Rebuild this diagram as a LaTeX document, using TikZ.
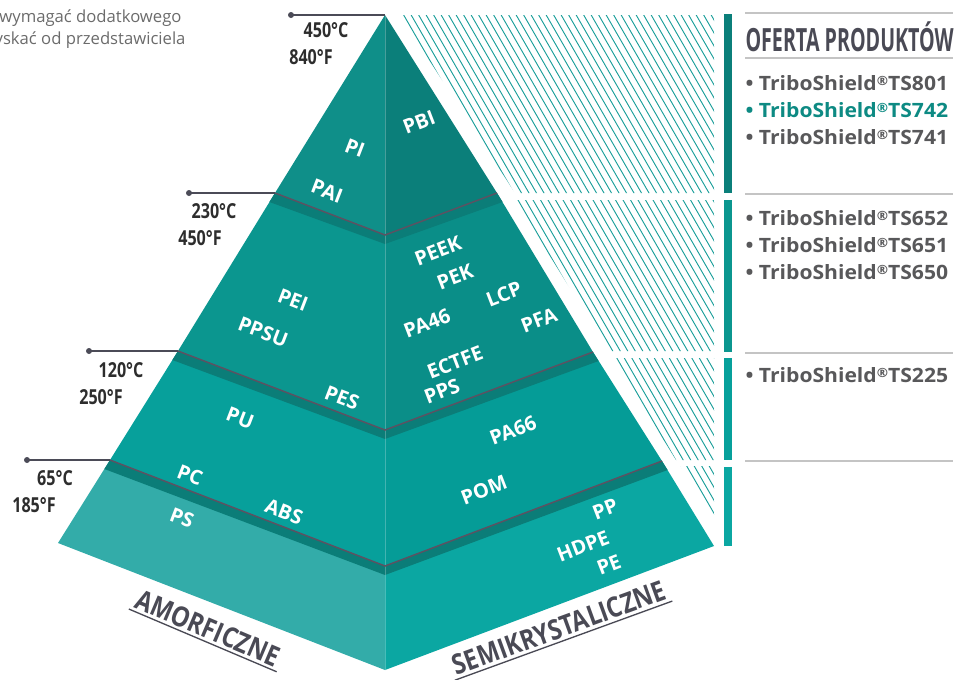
\documentclass[tikz,border=0pt]{standalone}
\usepackage{fontspec}
\setmainfont{Open Sans}
\usepackage{graphicx}

\definecolor{tOneL}{HTML}{0F8F89}
\definecolor{tOneR}{HTML}{0B7F7A}
\definecolor{tTwoL}{HTML}{0B968F}
\definecolor{tTwoR}{HTML}{0A8E88}
\definecolor{tThreeL}{HTML}{07A09B}
\definecolor{tThreeR}{HTML}{059C97}
\definecolor{tFourL}{HTML}{33ACA9}
\definecolor{tFourR}{HTML}{0BA7A2}
\definecolor{bandcol}{HTML}{0B7D78}
\definecolor{edgecol}{HTML}{5C5262}
\definecolor{leadcol}{HTML}{4B4B57}
\definecolor{hatchcol}{HTML}{1A9E9A}
\definecolor{inkcol}{HTML}{2D2D2D}
\definecolor{listcol}{HTML}{58585A}
\definecolor{hicol}{HTML}{0D8A83}
\definecolor{titlecol}{HTML}{4A4A55}
\definecolor{rulecol}{HTML}{C4C4C4}
\definecolor{noteol}{HTML}{6B6B6B}

\newcommand{\regmark}{\raisebox{0.5ex}{\fontsize{9.5}{9.5}\selectfont ®}}
\newcommand{\narrowtxt}[2]{\scalebox{#1}[1]{#2}}

\tikzset{every picture/.style={line width=0.75pt}}
\tikzset{
  plastic/.style={font=\bfseries\fontsize{15}{15}\selectfont, text=white, inner sep=0pt},
  leftface/.style={plastic, rotate=-21},
  rightface/.style={plastic, rotate=21},
  templabel/.style={font=\bfseries\fontsize{15.5}{15.5}\selectfont, text=inkcol, inner sep=0pt},
  offer/.style={font=\bfseries\fontsize{14.8}{14.8}\selectfont, text=listcol, anchor=west, inner sep=0pt},
  tierline/.style={draw=edgecol, line width=1.1pt},
  leader/.style={draw=leadcol, line width=1pt},
  hatchline/.style={draw=hatchcol, line width=0.7pt},
  graphrule/.style={draw=rulecol, line width=1pt},
  grouplabel/.style={font=\bfseries\fontsize{21}{21}\selectfont, text=titlecol, inner sep=0pt},
  groupline/.style={draw=titlecol, line width=1pt}
}

\begin{document}
\begin{tikzpicture}[x=0.75pt,y=0.75pt,yscale=-1,xscale=1]
	\useasboundingbox (0,0) rectangle (955,679);

	% corners of the tiers
	\coordinate (apex) at (385,15);
	\coordinate (l1) at (275,193); \coordinate (c1) at (385,235); \coordinate (r1) at (497,193);
	\coordinate (l2) at (178,351); \coordinate (c2) at (385,430); \coordinate (r2) at (593,352);
	\coordinate (l3) at (110,460); \coordinate (c3) at (385,566); \coordinate (r3) at (662,461);
	\coordinate (l4) at (58,543);  \coordinate (c4) at (385,670); \coordinate (r4) at (714,546);

	%Shape: tier faces
	\fill[tOneL] (apex) -- (l1) -- (c1) -- cycle;
	\fill[tOneR] (apex) -- (c1) -- (r1) -- cycle;
	\fill[tTwoL] (l1) -- (l2) -- (c2) -- (c1) -- cycle;
	\fill[tTwoR] (c1) -- (c2) -- (r2) -- (r1) -- cycle;
	\fill[tThreeL] (l2) -- (l3) -- (c3) -- (c2) -- cycle;
	\fill[tThreeR] (c2) -- (c3) -- (r3) -- (r2) -- cycle;
	\fill[tFourL] (l3) -- (l4) -- (c4) -- (c3) -- cycle;
	\fill[tFourR] (c3) -- (c4) -- (r4) -- (r3) -- cycle;

	%Shape: slab thickness
	\fill[bandcol] (l1) -- (c1) -- (r1) -- (502.6,202) -- (385,244) -- (269.4,202) -- cycle;
	\fill[bandcol] (l2) -- (c2) -- (r2) -- (598.6,361) -- (385,439) -- (172.4,360) -- cycle;
	\fill[bandcol] (l3) -- (c3) -- (r3) -- (667.6,470) -- (385,575) -- (104.4,469) -- cycle;

	% front edge
	\draw[white, opacity=0.25, line width=0.6pt] (apex) -- (c4);

	%Straight Lines: tier borders
	\draw[tierline] (l1) -- (c1) -- (r1);
	\draw[tierline] (l2) -- (c2) -- (r2);
	\draw[tierline] (l3) -- (c3) -- (r3);

	%Straight Lines: temperature leaders
	\coordinate (d1) at (291,15);
	\coordinate (d2) at (189,193);
	\coordinate (d3) at (89,351);
	\coordinate (d4) at (27,460);
	\draw[leader] (d1) -- (apex);
	\draw[leader] (d2) -- (l1);
	\draw[leader] (d3) -- (l2);
	\draw[leader] (d4) -- (l3);
	\foreach \d in {d1,d2,d3,d4} \fill[leadcol] (\d) circle (3);

	% hatching
	\begin{scope}
		\clip (400,15) -- (714,15) -- (714,193) -- (515,193) -- cycle;
		\foreach \s in {80,87.5,...,720} \draw[hatchline] (\s,0) -- ++(320,554);
	\end{scope}
	\begin{scope}
		\clip (515,200) -- (714,200) -- (714,351) -- (609,351) -- cycle;
		\foreach \s in {80,87.5,...,720} \draw[hatchline] (\s,0) -- ++(320,554);
	\end{scope}
	\begin{scope}
		\clip (613,358) -- (714,358) -- (714,460) -- (676,460) -- cycle;
		\foreach \s in {80,87.5,...,720} \draw[hatchline] (\s,0) -- ++(320,554);
	\end{scope}
	\begin{scope}
		\clip (680,466) -- (714,466) -- (714,521) -- cycle;
		\foreach \s in {80,87.5,...,720} \draw[hatchline] (\s,0) -- ++(320,554);
	\end{scope}

	%Shape: side bars
	\fill[tOneR] (724,14) rectangle (732,193);
	\fill[tTwoL] (724,200) rectangle (732,352);
	\fill[tThreeL] (724,358) rectangle (732,460);
	\fill[tFourR] (724,467) rectangle (732,546);

	% rules of the list
	\draw[graphrule] (745,13) -- (953,13);
	\draw[graphrule, line width=1.6pt] (745,58) -- (953,58);
	\draw[graphrule] (745,194) -- (953,194);
	\draw[graphrule] (745,353) -- (953,353);
	\draw[graphrule] (745,461) -- (953,461);

	% Text Node: note
	\node[font=\fontsize{12.5}{12.5}\selectfont, text=noteol, anchor=east, inner sep=0pt] (note1) at (182,18) {wymagać dodatkowego};
	\node[font=\fontsize{12.5}{12.5}\selectfont, text=noteol, anchor=east, inner sep=0pt] (note2) at (186,40) {yskać od przedstawiciela};

	% Text Node: temperatures
	\node[templabel] (t450c) at (326,30) {\narrowtxt{0.78}{450°C}};
	\node[templabel] (t840f) at (311,57) {\narrowtxt{0.78}{840°F}};
	\node[templabel] (t230c) at (214,211) {\narrowtxt{0.78}{230°C}};
	\node[templabel] (t450f) at (200,238) {\narrowtxt{0.78}{450°F}};
	\node[templabel] (t120c) at (121,370) {\narrowtxt{0.78}{120°C}};
	\node[templabel] (t250f) at (101,397) {\narrowtxt{0.78}{250°F}};
	\node[templabel] (t65c) at (55,478) {\narrowtxt{0.78}{65°C}};
	\node[templabel] (t185f) at (34,505) {\narrowtxt{0.78}{185°F}};

	% Text Node: plastics, left face
	\node[leftface] (pi) at (355,148) {PI};
	\node[leftface] (pai) at (327,191) {PAI};
	\node[leftface] (pei) at (293,300) {PEI};
	\node[leftface] (ppsu) at (263,332) {PPSU};
	\node[leftface] (pes) at (342,398) {PES};
	\node[leftface] (pu) at (240,418) {PU};
	\node[leftface] (pc) at (190,475) {PC};
	\node[leftface] (abs) at (284,512) {ABS};
	\node[leftface] (ps) at (182,518) {PS};

	% Text Node: plastics, right face
	\node[rightface] (pbi) at (419,122) {PBI};
	\node[rightface] (peek) at (438,251) {PEEK};
	\node[rightface] (pek) at (455,277) {PEK};
	\node[rightface] (lcp) at (504,294) {LCP};
	\node[rightface] (pa46) at (427,323) {PA46};
	\node[rightface] (pfa) at (539,320) {PFA};
	\node[rightface] (ectfe) at (455,362) {ECTFE};
	\node[rightface] (pps) at (442,391) {PPS};
	\node[rightface] (pa66) at (513,430) {PA66};
	\node[rightface] (pom) at (484,490) {POM};
	\node[rightface] (pp) at (605,509) {PP};
	\node[rightface] (hdpe) at (583,546) {HDPE};
	\node[rightface] (pe) at (609,565) {PE};

	% Text Node: groups
	\node[grouplabel, rotate=-23, inner sep=2pt] (amorf) at (208,628) {\narrowtxt{0.84}{AMORFICZNE}};
	\draw[groupline] (amorf.south west) -- (amorf.south east);
	\node[grouplabel, rotate=20, inner sep=2pt] (semi) at (559,628) {\narrowtxt{0.84}{SEMIKRYSTALICZNE}};
	\draw[groupline] (semi.south west) -- (semi.south east);

	% Text Node: offer
	\node[grouplabel, font=\bfseries\fontsize{24}{24}\selectfont, anchor=west] (title) at (745,37) {\narrowtxt{0.615}{OFERTA PRODUKTÓW}};
	\node[offer] (ts801) at (745,83) {\narrowtxt{1.07}{• TriboShield\regmark TS801}};
	\node[offer, text=hicol] (ts742) at (745,110) {\narrowtxt{1.07}{• TriboShield\regmark TS742}};
	\node[offer] (ts741) at (745,137) {\narrowtxt{1.07}{• TriboShield\regmark TS741}};
	\node[offer] (ts652) at (745,218) {\narrowtxt{1.07}{• TriboShield\regmark TS652}};
	\node[offer] (ts651) at (745,245) {\narrowtxt{1.07}{• TriboShield\regmark TS651}};
	\node[offer] (ts650) at (745,272) {\narrowtxt{1.07}{• TriboShield\regmark TS650}};
	\node[offer] (ts225) at (745,375) {\narrowtxt{1.07}{• TriboShield\regmark TS225}};

\end{tikzpicture}
\end{document}
